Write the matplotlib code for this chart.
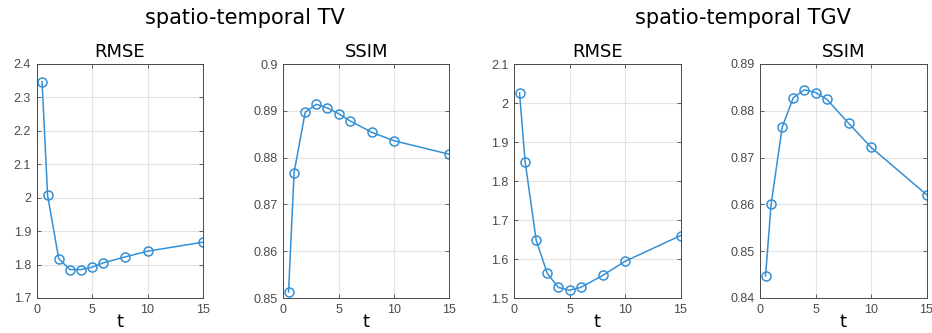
import matplotlib
matplotlib.use("Agg")
import matplotlib.pyplot as plt

t = [0.5, 1, 2, 3, 4, 5, 6, 8, 10, 15]

tv_rmse = [2.347, 2.007, 1.818, 1.785, 1.785, 1.792, 1.805, 1.823, 1.840, 1.867]
tv_ssim = [0.8513, 0.8768, 0.8897, 0.8914, 0.8906, 0.8894, 0.8879, 0.8854, 0.8836, 0.8807]
tgv_rmse = [2.026, 1.850, 1.648, 1.563, 1.527, 1.520, 1.527, 1.558, 1.594, 1.660]
tgv_ssim = [0.8447, 0.8600, 0.8765, 0.8828, 0.8845, 0.8839, 0.8825, 0.8773, 0.8722, 0.8621]

panels = [
    ("RMSE", tv_rmse, (1.7, 2.4), [1.7, 1.8, 1.9, 2.0, 2.1, 2.2, 2.3, 2.4], ["1.7", "1.8", "1.9", "2", "2.1", "2.2", "2.3", "2.4"]),
    ("SSIM", tv_ssim, (0.85, 0.9), [0.85, 0.86, 0.87, 0.88, 0.89, 0.9], ["0.85", "0.86", "0.87", "0.88", "0.89", "0.9"]),
    ("RMSE", tgv_rmse, (1.5, 2.1), [1.5, 1.6, 1.7, 1.8, 1.9, 2.0, 2.1], ["1.5", "1.6", "1.7", "1.8", "1.9", "2", "2.1"]),
    ("SSIM", tgv_ssim, (0.84, 0.89), [0.84, 0.85, 0.86, 0.87, 0.88, 0.89], ["0.84", "0.85", "0.86", "0.87", "0.88", "0.89"]),
]

W, H = 932, 333
lefts = [36.5, 283, 514, 760]
fig = plt.figure(figsize=(W / 100, H / 100), dpi=100)
fig.patch.set_facecolor("white")

line_col = "#3590d6"
for (title, vals, ylim, yt, ytl), lx in zip(panels, lefts):
    ax = fig.add_axes([lx / W, 35 / H, 166.5 / W, 234 / H])
    ax.plot(t, vals, "-o", color=line_col, lw=1.1, ms=6.5, mfc="none", mec=line_col, mew=1.1)
    ax.set_xlim(0, 15)
    ax.set_ylim(*ylim)
    ax.set_xticks([0, 5, 10, 15])
    ax.set_yticks(yt)
    ax.set_yticklabels(ytl)
    ax.grid(True, color="#e3e3e3", lw=0.8)
    ax.set_axisbelow(True)
    ax.tick_params(direction="in", top=True, right=True, length=3, width=0.6,
                   colors="#4a4a4a", labelsize=9, pad=4)
    for lbl in ax.get_xticklabels() + ax.get_yticklabels():
        lbl.set_family("Liberation Sans")
    for s in ax.spines.values():
        s.set_color("#4a4a4a")
        s.set_linewidth(0.7)
    ax.set_title(title, fontsize=13, pad=5, color="black")
    ax.set_xlabel("t", fontsize=13, labelpad=-2)

fig.text(245 / W, 1 - 18 / H, "spatio-temporal TV", ha="center", va="center", fontsize=15)
fig.text(743 / W, 1 - 18 / H, "spatio-temporal TGV", ha="center", va="center", fontsize=15)

fig.savefig("out.png", dpi=100)
